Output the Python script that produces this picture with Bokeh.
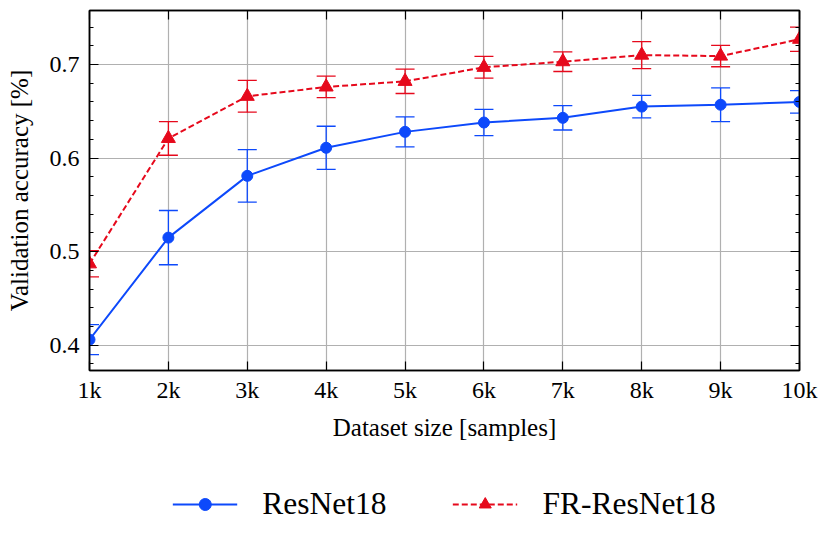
from bokeh.plotting import figure
from bokeh.layouts import column
from bokeh.models import (ColumnDataSource, Whisker, TeeHead, LinearAxis, FixedTicker,
                          Legend, LegendItem, Range1d)
from bokeh.embed import file_html
from bokeh.resources import INLINE

# ---- data ----
sizes = [1000, 2000, 3000, 4000, 5000, 6000, 7000, 8000, 9000, 10000]
size_labels = ["1k", "2k", "3k", "4k", "5k", "6k", "7k", "8k", "9k", "10k"]
resnet_mean = [0.406, 0.515, 0.581, 0.611, 0.628, 0.638, 0.643, 0.655, 0.657, 0.660]
resnet_err = [0.016, 0.029, 0.028, 0.023, 0.016, 0.014, 0.013, 0.012, 0.018, 0.012]
fr_mean = [0.487, 0.621, 0.666, 0.676, 0.682, 0.697, 0.703, 0.710, 0.709, 0.727]
fr_err = [0.014, 0.018, 0.017, 0.0115, 0.013, 0.0116, 0.0105, 0.0144, 0.0114, 0.013]
y_ticks = [0.4, 0.5, 0.6, 0.7]
series_names = ["ResNet18", "FR-ResNet18"]

BLUE = "#0d49fb"
RED = "#e6091c"
FONT = "Liberation Serif"

p = figure(width=822, height=460, output_backend="svg", toolbar_location=None,
           x_range=Range1d(1000, 10000), y_range=Range1d(0.373, 0.7577),
           min_border_left=89, min_border_right=23, min_border_top=10, min_border_bottom=90)
p.outline_line_color = "black"
p.outline_line_width = 1.5
p.background_fill_color = "white"
p.border_fill_color = "white"

src_r = ColumnDataSource(dict(x=sizes, y=resnet_mean,
                              lo=[m - e for m, e in zip(resnet_mean, resnet_err)],
                              hi=[m + e for m, e in zip(resnet_mean, resnet_err)]))
src_f = ColumnDataSource(dict(x=sizes, y=fr_mean,
                              lo=[m - e for m, e in zip(fr_mean, fr_err)],
                              hi=[m + e for m, e in zip(fr_mean, fr_err)]))

for src, col in ((src_r, BLUE), (src_f, RED)):
    w = Whisker(source=src, base="x", upper="hi", lower="lo", dimension="height",
                line_color=col, line_width=1.3,
                upper_head=TeeHead(size=19, line_color=col, line_width=1.3),
                lower_head=TeeHead(size=19, line_color=col, line_width=1.3))
    p.add_layout(w)

p.line("x", "y", source=src_r, line_color=BLUE, line_width=2)
p.scatter("x", "y", source=src_r, marker="circle", size=11, fill_color=BLUE, line_color=BLUE)
p.line("x", "y", source=src_f, line_color=RED, line_width=2, line_dash="6 3")
p.scatter("x", "y", source=src_f, marker="triangle", size=14, fill_color=RED, line_color=RED)

xt = FixedTicker(ticks=sizes)
yt = FixedTicker(ticks=y_ticks, minor_ticks=[round(0.36 + 0.02 * i, 2) for i in range(21)])

def style_axis(ax):
    ax.axis_line_color = "black"
    ax.axis_line_width = 1.5
    ax.major_tick_in = 9
    ax.major_tick_out = 0
    ax.minor_tick_in = 4
    ax.minor_tick_out = 0
    ax.major_tick_line_color = "black"
    ax.major_tick_line_width = 1.2
    ax.minor_tick_line_color = "black"
    ax.minor_tick_line_width = 1.0
    ax.major_label_text_font = FONT
    ax.major_label_text_color = "black"
    ax.axis_label_text_font = FONT
    ax.axis_label_text_font_style = "normal"
    ax.axis_label_text_color = "black"

xa = p.xaxis[0]
xa.ticker = xt
xa.major_label_overrides = {s: l for s, l in zip(sizes, size_labels)}
style_axis(xa)
xa.minor_tick_line_color = None
xa.major_label_text_font_size = "24px"
xa.major_label_standoff = 6
xa.axis_label = "Dataset size [samples]"
xa.axis_label_text_font_size = "25px"
xa.axis_label_standoff = 8

ya = p.yaxis[0]
ya.ticker = yt
style_axis(ya)
ya.major_label_text_font_size = "24px"
ya.major_label_standoff = 10
ya.axis_label = "Validation accuracy [%]"
ya.axis_label_text_font_size = "25px"
ya.axis_label_standoff = 14

top = LinearAxis(ticker=xt, major_label_text_alpha=0, major_label_text_font_size="1px",
                 major_label_standoff=0)
style_axis(top)
top.minor_tick_line_color = None
p.add_layout(top, "above")

right = LinearAxis(ticker=yt, major_label_text_alpha=0, major_label_text_font_size="1px",
                   major_label_standoff=0)
style_axis(right)
p.add_layout(right, "right")

p.xgrid.ticker = xt
p.ygrid.ticker = yt
for g in (p.xgrid[0], p.ygrid[0]):
    g.grid_line_color = "#b0b0b0"
    g.grid_line_width = 1.2

# ---- legend strip below the chart (series drawn out of view, only the legend shows) ----
lg = figure(width=822, height=80, output_backend="svg", toolbar_location=None,
            x_axis_type=None, y_axis_type=None, x_range=Range1d(0, 1), y_range=Range1d(0, 1),
            min_border_left=89, min_border_right=23, min_border_top=8, min_border_bottom=0)
lg.outline_line_color = None
lg.xgrid.visible = False
lg.ygrid.visible = False
g1 = lg.line("x", "y", source=src_r, line_color=BLUE, line_width=2)
g2 = lg.scatter("x", "y", source=src_r, marker="circle", size=10, fill_color=BLUE, line_color=BLUE)
g3 = lg.line("x", "y", source=src_f, line_color=RED, line_width=2, line_dash="6 3")
g4 = lg.scatter("x", "y", source=src_f, marker="triangle", size=12, fill_color=RED, line_color=RED)

legend = Legend(items=[LegendItem(label=series_names[0], renderers=[g1, g2]),
                       LegendItem(label=series_names[1], renderers=[g3, g4])],
                orientation="horizontal", location="center",
                label_text_font=FONT, label_text_font_size="31.5px", label_text_color="black",
                glyph_width=65, glyph_height=30, label_standoff=25, spacing=66,
                border_line_color=None, background_fill_alpha=0,
                margin=0, padding=10)
lg.add_layout(legend, "center")

open("out.html", "w").write(file_html(column(p, lg), INLINE))
